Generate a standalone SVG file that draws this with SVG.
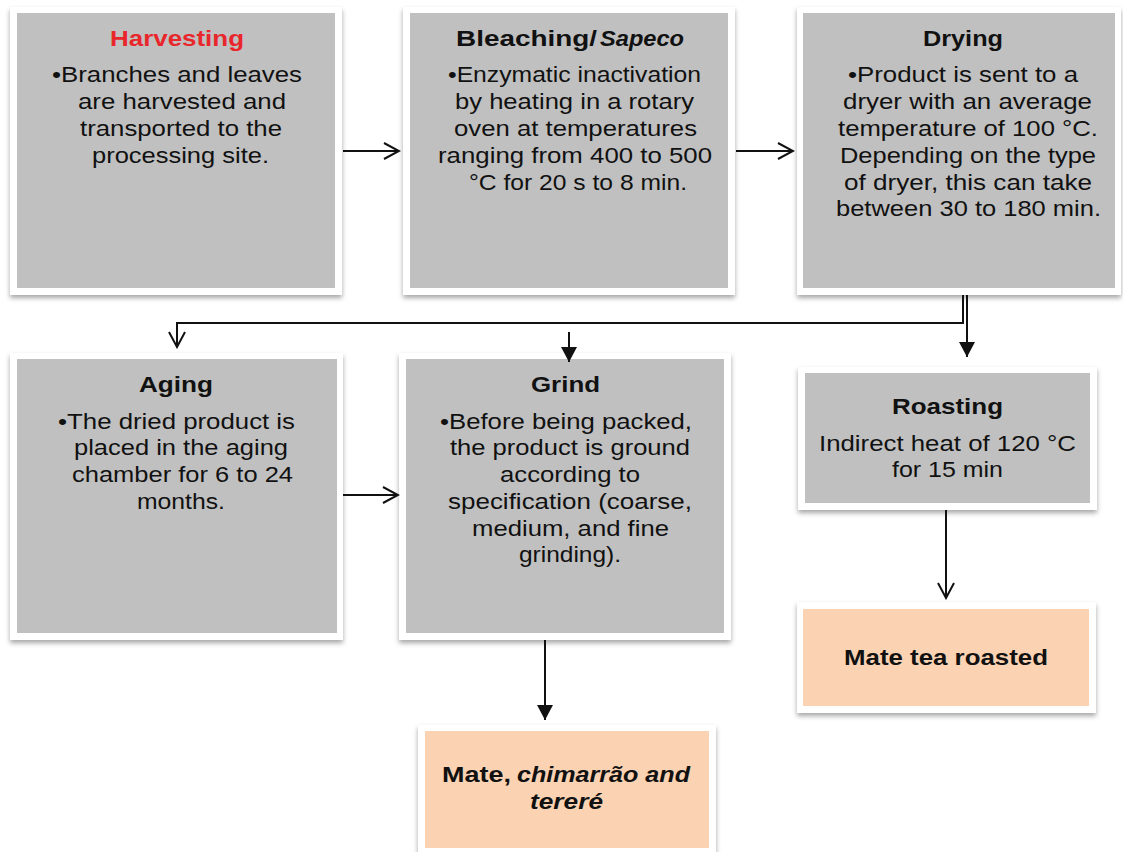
<svg xmlns="http://www.w3.org/2000/svg" width="1123" height="852" viewBox="0 0 1123 852">
<style>
.frame{fill:#ffffff;filter:url(#sh)}
.gray{fill:#c0c0c0}
.peach{fill:#fbd3b2}
text{font-family:"Liberation Sans",Arial,sans-serif;font-size:22px;fill:#111111}
.t{font-weight:bold}
.bi{font-weight:bold;font-style:italic}
.red{fill:#e8262b}
.con{fill:none;stroke:#111111;stroke-width:2}
</style>
<defs>
<filter id="sh" x="-10%" y="-10%" width="120%" height="125%">
<feDropShadow dx="0" dy="3" stdDeviation="2.5" flood-color="#000000" flood-opacity="0.35"/>
</filter>
<marker id="open" markerUnits="userSpaceOnUse" viewBox="-20 -11 22 22" refX="0" refY="0" markerWidth="22" markerHeight="22" orient="auto">
<path d="M-15,-8 L0,0 L-15,8" fill="none" stroke="#111111" stroke-width="2"/>
</marker>
<marker id="fill" markerUnits="userSpaceOnUse" viewBox="-20 -11 22 22" refX="0" refY="0" markerWidth="22" markerHeight="22" orient="auto">
<path d="M-15,-8 L0,0 L-15,8 Z" fill="#111111"/>
</marker>
</defs>
<rect width="1123" height="852" fill="#ffffff"/>

<g id="harvesting">
<rect class="frame" x="10" y="7" width="332" height="288"/>
<rect class="gray" x="17" y="13" width="318" height="275"/>
<text class="t red" x="110" y="46" textLength="134" lengthAdjust="spacingAndGlyphs">Harvesting</text>
<text x="52" y="82" textLength="250" lengthAdjust="spacingAndGlyphs">•Branches and leaves</text>
<text x="78" y="109" textLength="208" lengthAdjust="spacingAndGlyphs">are harvested and</text>
<text x="80" y="136" textLength="202" lengthAdjust="spacingAndGlyphs">transported to the</text>
<text x="92" y="163" textLength="177" lengthAdjust="spacingAndGlyphs">processing site.</text>
</g>

<g id="bleaching">
<rect class="frame" x="403" y="7" width="332" height="288"/>
<rect class="gray" x="410" y="13" width="318" height="275"/>
<text class="t" x="456" y="46" textLength="141" lengthAdjust="spacingAndGlyphs">Bleaching/</text>
<text class="bi" x="600" y="46" textLength="84" lengthAdjust="spacingAndGlyphs">Sapeco</text>
<text x="448" y="82" textLength="253" lengthAdjust="spacingAndGlyphs">•Enzymatic inactivation</text>
<text x="455" y="109" textLength="239" lengthAdjust="spacingAndGlyphs">by heating in a rotary</text>
<text x="454" y="136" textLength="243" lengthAdjust="spacingAndGlyphs">oven at temperatures</text>
<text x="438" y="163" textLength="274" lengthAdjust="spacingAndGlyphs">ranging from 400 to 500</text>
<text x="469" y="190" textLength="218" lengthAdjust="spacingAndGlyphs">°C for 20 s to 8 min.</text>
</g>

<g id="drying">
<rect class="frame" x="797" y="7" width="324" height="288"/>
<rect class="gray" x="803" y="13" width="312" height="275"/>
<text class="t" x="923" y="46" textLength="80" lengthAdjust="spacingAndGlyphs">Drying</text>
<text x="848" y="82" textLength="230" lengthAdjust="spacingAndGlyphs">•Product is sent to a</text>
<text x="843" y="109" textLength="249" lengthAdjust="spacingAndGlyphs">dryer with an average</text>
<text x="838" y="136" textLength="260" lengthAdjust="spacingAndGlyphs">temperature of 100 °C.</text>
<text x="840" y="163" textLength="256" lengthAdjust="spacingAndGlyphs">Depending on the type</text>
<text x="844" y="190" textLength="248" lengthAdjust="spacingAndGlyphs">of dryer, this can take</text>
<text x="836" y="216" textLength="265" lengthAdjust="spacingAndGlyphs">between 30 to 180 min.</text>
</g>

<g id="aging">
<rect class="frame" x="10" y="353" width="333" height="287"/>
<rect class="gray" x="17" y="359" width="320" height="274"/>
<text class="t" x="139" y="392" textLength="74" lengthAdjust="spacingAndGlyphs">Aging</text>
<text x="58" y="429" textLength="237" lengthAdjust="spacingAndGlyphs">•The dried product is</text>
<text x="74" y="455" textLength="214" lengthAdjust="spacingAndGlyphs">placed in the aging</text>
<text x="72" y="482" textLength="221" lengthAdjust="spacingAndGlyphs">chamber for 6 to 24</text>
<text x="137" y="509" textLength="88" lengthAdjust="spacingAndGlyphs">months.</text>
</g>

<g id="grind">
<rect class="frame" x="399" y="353" width="332" height="287"/>
<rect class="gray" x="406" y="359" width="318" height="274"/>
<text class="t" x="531" y="392" textLength="69" lengthAdjust="spacingAndGlyphs">Grind</text>
<text x="440" y="429" textLength="252" lengthAdjust="spacingAndGlyphs">•Before being packed,</text>
<text x="450" y="455" textLength="240" lengthAdjust="spacingAndGlyphs">the product is ground</text>
<text x="500" y="482" textLength="140" lengthAdjust="spacingAndGlyphs">according to</text>
<text x="448" y="509" textLength="244" lengthAdjust="spacingAndGlyphs">specification (coarse,</text>
<text x="472" y="536" textLength="197" lengthAdjust="spacingAndGlyphs">medium, and fine</text>
<text x="519" y="562" textLength="102" lengthAdjust="spacingAndGlyphs">grinding).</text>
</g>

<g id="roasting">
<rect class="frame" x="798" y="367" width="299" height="143"/>
<rect class="gray" x="805" y="373" width="285" height="130"/>
<text class="t" x="892" y="414" textLength="111" lengthAdjust="spacingAndGlyphs">Roasting</text>
<text x="819" y="451" textLength="257" lengthAdjust="spacingAndGlyphs">Indirect heat of 120 °C</text>
<text x="892" y="477" textLength="111" lengthAdjust="spacingAndGlyphs">for 15 min</text>
</g>

<g id="mate-tea-roasted">
<rect class="frame" x="797" y="602" width="299" height="111"/>
<rect class="peach" x="803" y="609" width="286" height="97"/>
<text class="t" x="844" y="665" textLength="204" lengthAdjust="spacingAndGlyphs">Mate tea roasted</text>
</g>

<g id="mate-chimarrao-terere">
<rect class="frame" x="418" y="725" width="298" height="132"/>
<rect class="peach" x="425" y="731" width="284" height="117"/>
<text class="t" x="442" y="782" textLength="69" lengthAdjust="spacingAndGlyphs">Mate,</text>
<text class="bi" x="517" y="782" textLength="173" lengthAdjust="spacingAndGlyphs">chimarrão and</text>
<text class="bi" x="530" y="809" textLength="73" lengthAdjust="spacingAndGlyphs">tereré</text>
</g>

<g id="connectors">
<path class="con" d="M343,151 H399" marker-end="url(#open)"/>
<path class="con" d="M736,151 H793" marker-end="url(#open)"/>
<path class="con" d="M963,295 V323 H177 V347" marker-end="url(#open)"/>
<path class="con" d="M967,295 V357" marker-end="url(#fill)"/>
<path class="con" d="M569,332 V362" marker-end="url(#fill)"/>
<path class="con" d="M343,495 H398" marker-end="url(#open)"/>
<path class="con" d="M545,640 V720" marker-end="url(#fill)"/>
<path class="con" d="M946,510 V598" marker-end="url(#open)"/>
</g>
</svg>
